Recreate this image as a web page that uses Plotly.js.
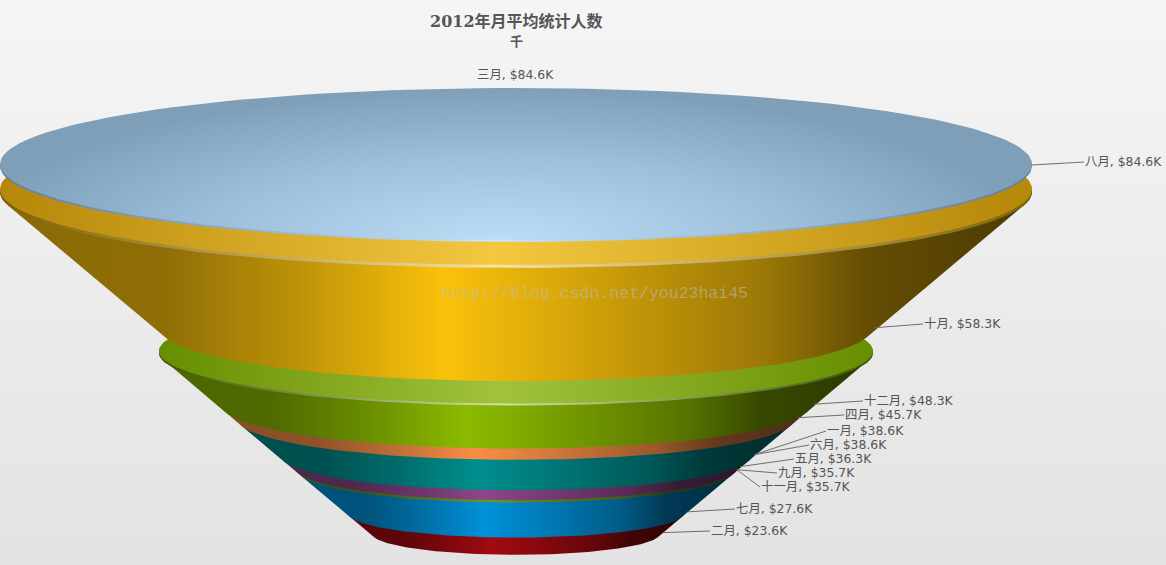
<!DOCTYPE html>
<html>
<head>
<meta charset="utf-8">
<script src="https://cdn.plot.ly/plotly-3.0.1.min.js"></script>
<style>
html,body{margin:0;padding:0;width:1166px;height:565px;overflow:hidden;background:linear-gradient(to bottom,#f5f5f5 0%,#e3e3e3 100%);}
#chart{width:1166px;height:565px;}
</style>
</head>
<body>
<div id="chart"></div>
<script>
// ---- data ----
const months = ['三月','八月','十月','十二月','四月','一月','六月','五月','九月','十一月','七月','二月'];
const values = [84.6,84.6,58.3,48.3,45.7,38.6,38.6,36.3,35.7,35.7,27.6,23.6];
const bandColors = ['#9dc3e0','#9dc3e0','#fac10b','#8cba00','#f98e46','#008e8e','#008e8e','#8c4689','#66962a','#66962a','#0092da','#a20a10'];
const titleText = '2012年月平均统计人数';
const subtitleText = '千';
const watermark = 'http://blog.csdn.net/you23hai45';

// ---- layout constants (pixels on the 1166x565 page) ----
const W = 1166, H = 565, PX_PER_K = 516 / 84.6, CENTER_PX = 516;
const TILT = 0.1473, DEPTH_PX = 4.3;
const CAP_CY = 164, CAP_LIP = 2;
const rimAfter = {2: {gap: 28, lip: 3, grow: 0, sides: '#b5870a', mid: '#f3c83f', lipSides: '#7f6204', lipMid: '#f6e2a4'},
                  3: {gap: 24.5, lip: 2, grow: 1.5, sides: '#668e00', mid: '#a2c23e', lipSides: '#3c5500', lipMid: '#d3e0a4'}};
const labelLeft = [477,1085,924,864,845,827,810,795,778,761,736,711];
const labelMid  = [74,161,323,400,414,430,444,458,472,486,508,530];
const TEXT_NUDGE = 2;
const shadeStops = [[0,.55],[.16,.57],[.29,.76],[.43,1],[.54,.87],[.74,.62],[.84,.4],[1,.3]];

const u = p => p / PX_PER_K;
function shade(hex, f){
  const n = parseInt(hex.slice(1),16);
  return `rgb(${Math.round((n>>16&255)*f)},${Math.round((n>>8&255)*f)},${Math.round((n&255)*f)})`;
}
const bodyScale = c => shadeStops.map(([t,f]) => [t, shade(c,f)]);
const threeStop = (a,b) => [[0,a],[.48,b],[1,a]];

// Rebuild the stack: each band runs from the previous value to its own value.
let front = u(CAP_CY) + TILT * values[0];
const bands = [];
const rims = [];
const ellipseY = [];   // per-value centre of its lower edge
ellipseY[0] = ellipseY[1] = u(CAP_CY);
for (let i = 2; i < values.length; i++) {
  const rTop = values[i-1], rBot = values[i];
  if (rimAfter[i]) {
    const g = rimAfter[i];
    front += u(g.gap);
    rims.push({i, r: rTop + u(g.grow), lipFront: front, g});
  }
  const cTop = front - TILT * rTop;
  front += DEPTH_PX * u(1) * (rTop - rBot);
  const cBot = front - TILT * rBot;
  ellipseY[i] = cBot;
  if (rTop !== rBot) bands.push({i, rTop, cTop, rBot, cBot});
}

function arc(r, c, from, to, xs, ys){
  const step = from < to ? 2 : -2;
  for (let a = from; step > 0 ? a <= to : a >= to; a += step) {
    const t = a * Math.PI / 180;
    xs.push(r * Math.cos(t));
    ys.push(c + TILT * r * Math.sin(t));
  }
}
function hull(b){
  const phi = Math.asin(Math.min(1, TILT / ((b.cBot - b.cTop) / (b.rTop - b.rBot)))) * 180 / Math.PI;
  const xs = [], ys = [];
  arc(b.rBot, b.cBot, phi, 180 - phi, xs, ys);
  arc(b.rTop, b.cTop, 180 - phi, 360 + phi, xs, ys);
  xs.push(xs[0]); ys.push(ys[0]);
  return {xs, ys};
}
function ellipse(r, c){
  const xs = [], ys = [];
  arc(r, c, 0, 360, xs, ys);
  return {xs, ys};
}
function fillTrace(p, grad){
  return {x: p.xs, y: p.ys, type: 'scatter', mode: 'lines', fill: 'toself', line: {width: 0, color: 'rgba(0,0,0,0)'},
          fillgradient: grad, hoverinfo: 'skip', showlegend: false};
}
const hGrad = cs => ({type: 'horizontal', colorscale: cs});

const traces = [];
// lowest band first so each upper band overlaps the one below it
bands.slice().reverse().forEach(b => {
  traces.push(fillTrace(hull(b), hGrad(bodyScale(bandColors[b.i]))));
  const g = rimAfter[b.i];
  if (g) {
    const rm = rims.find(x => x.i === b.i);
    const cLip = rm.lipFront - TILT * rm.r;
    traces.push(fillTrace(ellipse(rm.r, cLip), hGrad(threeStop(g.lipSides, g.lipMid))));
    traces.push(fillTrace(ellipse(rm.r, cLip - u(g.lip)), hGrad(threeStop(g.sides, g.mid))));
  }
});
// top cap
const capR = values[0];
traces.push(fillTrace(ellipse(capR, u(CAP_CY + CAP_LIP)), hGrad(threeStop('#5d7e9c', '#cfe4f4'))));
const cap = ellipse(capR, u(CAP_CY));
// an off-page sliver widens the cap's box so the radial glow sits at its lower edge
cap.xs.push(null, -capR - u(32), -capR - u(32), -capR - u(32));
cap.ys.push(null, u(CAP_CY) - TILT * capR, u(CAP_CY) + TILT * capR * 3, u(CAP_CY) - TILT * capR);
traces.push(fillTrace(cap, {type: 'radial', colorscale: [[0,'#bcddf5'],[.55,'#9dbfdb'],[1,'#7f9fb9']]}));

// leader lines
const pxX = p => (p - CENTER_PX) / PX_PER_K;
const lx = [], ly = [];
values.forEach((v, i) => {
  if (i === 0) return;
  const onCap = i === 1;
  lx.push(v + u(onCap ? 0 : 3), pxX(labelLeft[i] - 1), null);
  ly.push(ellipseY[i] + u(onCap ? 1 : -1), u(labelMid[i] + 1), null);
});
traces.push({x: lx, y: ly, type: 'scatter', mode: 'lines', line: {color: '#6e6e6e', width: 1}, hoverinfo: 'skip', showlegend: false});

// labels
traces.push({
  x: labelLeft.map(pxX), y: labelMid.map(m => u(m + TEXT_NUDGE)),
  text: months.map((m, i) => `${m}, $${values[i].toFixed(1)}K`),
  type: 'scatter', mode: 'text', textposition: 'middle right',
  textfont: {family: '"DejaVu Sans","Noto Sans CJK SC",sans-serif', size: 12.4, color: '#555555'},
  hoverinfo: 'skip', showlegend: false, cliponaxis: false
});

const layout = {
  width: W, height: H,
  margin: {l: 0, r: 0, t: 0, b: 0, pad: 0},
  paper_bgcolor: 'rgba(0,0,0,0)', plot_bgcolor: 'rgba(0,0,0,0)',
  xaxis: {range: [-CENTER_PX / PX_PER_K, (W - CENTER_PX) / PX_PER_K], visible: false, fixedrange: true},
  yaxis: {range: [H / PX_PER_K, 0], visible: false, fixedrange: true},
  showlegend: false,
  annotations: [
    {xref: 'paper', yref: 'paper', x: CENTER_PX / W, y: 1 - 21 / H, xanchor: 'center', yanchor: 'middle', showarrow: false,
     text: '<b>' + titleText + '</b>', font: {family: '"DejaVu Serif","Noto Sans CJK SC",serif', size: 16, color: '#555555'}},
    {xref: 'paper', yref: 'paper', x: CENTER_PX / W, y: 1 - 41.5 / H, xanchor: 'center', yanchor: 'middle', showarrow: false,
     text: '<b>' + subtitleText + '</b>', font: {family: '"DejaVu Serif","Noto Sans CJK SC",serif', size: 13, color: '#555555'}},
    {xref: 'paper', yref: 'paper', x: 594 / W, y: 1 - 293 / H, xanchor: 'center', yanchor: 'middle', showarrow: false,
     text: watermark, font: {family: '"Liberation Mono",monospace', size: 16.5, color: 'rgba(190,190,190,0.55)'}}
  ]
};
Plotly.newPlot('chart', traces, layout, {displayModeBar: false, staticPlot: true});
</script>
</body>
</html>
